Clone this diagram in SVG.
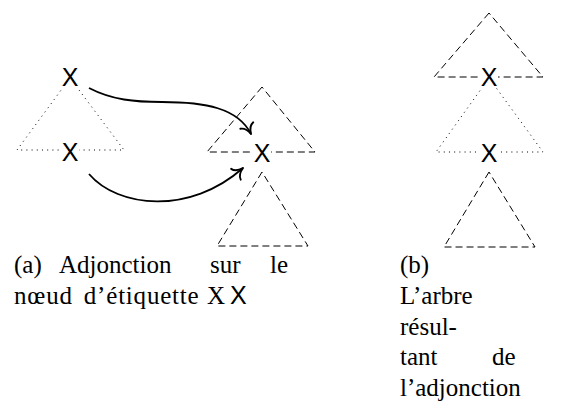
<svg xmlns="http://www.w3.org/2000/svg" width="566" height="413" viewBox="0 0 566 413">
<defs>
<style>
.dash{fill:none;stroke:#000;stroke-width:1;stroke-dasharray:7 4}
.dot{fill:none;stroke:#000;stroke-width:1;stroke-dasharray:1 4.2}
.arr{fill:none;stroke:#000;stroke-width:1.8}
.lab{font-family:"Liberation Sans",Arial,sans-serif;font-size:25px;fill:#000;text-anchor:middle}
.mask{fill:#fff}
.cap{font-family:"Liberation Serif","Times New Roman",serif;font-size:25px;fill:#000}
.capx{font-family:"Liberation Sans",Arial,sans-serif;font-size:25px;fill:#000}
</style>
<marker id="tip" markerUnits="userSpaceOnUse" markerWidth="20" markerHeight="20" viewBox="-11 -9 13 18" refX="0" refY="0" orient="auto" overflow="visible">
<path d="M -8.5 -6.5 C -7.5 -2.6 -2.6 -0.6 0 0 M -8.5 6.5 C -7.5 2.6 -2.6 0.6 0 0" fill="none" stroke="#000" stroke-width="1.7" stroke-linecap="round"/>
</marker>
</defs>

<g id="tree-a-initial">
<polygon class="dot" points="70,78 17,150 124,150"/>
</g>
<g id="tree-a-aux-top">
<polygon class="dash" points="262,87 207,152 315,152"/>
</g>
<g id="tree-a-aux-bottom">
<polygon class="dash" points="262,172 217,246 308,246"/>
</g>
<g id="tree-b-top">
<polygon class="dash" points="489,13 434,77 543,77"/>
</g>
<g id="tree-b-middle">
<polygon class="dot" points="489,78 436,152 543,152"/>
</g>
<g id="tree-b-bottom">
<polygon class="dash" points="489,172 444,247 535,247"/>
</g>

<g id="node-a-x-top">
<rect class="mask" x="61" y="67" width="18" height="21"/>
<text class="lab" x="70" y="86">X</text>
</g>
<g id="node-a-x-foot">
<rect class="mask" x="61" y="142" width="18" height="21"/>
<text class="lab" x="70" y="161">X</text>
</g>
<g id="node-a-x-aux">
<rect class="mask" x="253" y="143" width="18" height="21"/>
<text class="lab" x="262" y="162">X</text>
</g>
<g id="node-b-x-top">
<rect class="mask" x="480" y="67" width="18" height="21"/>
<text class="lab" x="489" y="86">X</text>
</g>
<g id="node-b-x-foot">
<rect class="mask" x="480" y="143" width="18" height="21"/>
<text class="lab" x="489" y="162">X</text>
</g>

<g id="connectors">
<path class="arr" d="M 89 88 C 112 100 135 102 162 102 C 205 102 238 108 251 134" marker-end="url(#tip)"/>
<path class="arr" d="M 89 174 C 118 208 190 215 243 168" marker-end="url(#tip)"/>
</g>

<g id="caption-a">
<text class="cap" x="14" y="273">(a)</text>
<text class="cap" x="59" y="273">Adjonction</text>
<text class="cap" x="210" y="273">sur</text>
<text class="cap" x="270" y="273">le</text>
<text class="cap" x="14" y="304" letter-spacing="0.8" word-spacing="4">nœud d’étiquette</text>
<text class="cap" x="207" y="304">X</text>
<text class="capx" x="230" y="304">X</text>
</g>
<g id="caption-b">
<text class="cap" x="400" y="273">(b)</text>
<text class="cap" x="400" y="304">L’arbre</text>
<text class="cap" x="400" y="335">résul-</text>
<text class="cap" x="400" y="365">tant</text>
<text class="cap" x="492" y="365">de</text>
<text class="cap" x="400" y="396">l’adjonction</text>
</g>
</svg>
